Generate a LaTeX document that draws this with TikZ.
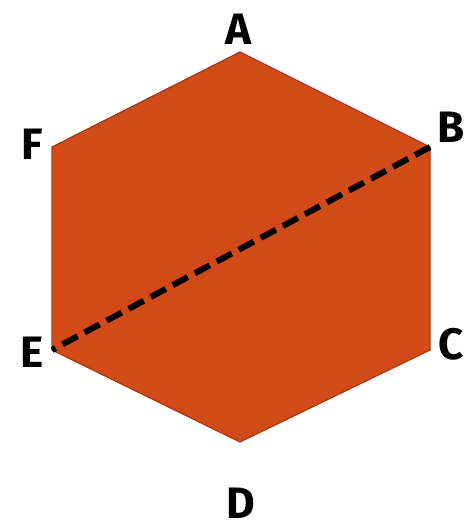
\documentclass[tikz,border=0pt]{standalone}
\usepackage{fontspec}
\setmainfont{Fira Sans}
\definecolor{hexfill}{HTML}{D14A17}
\definecolor{hexedge}{HTML}{A83A12}
\tikzset{
  vertex/.style = {font=\fontsize{44}{44}\selectfont\bfseries, text=black, inner sep=0pt},
  diagonal/.style = {line width=6pt, dash pattern=on 17pt off 8pt}
}

\begin{document}
\begin{tikzpicture}[x=1pt,y=-1pt]
  \useasboundingbox (0,0) rectangle (473,529);
  %
  \coordinate (A) at (240,52);
  \coordinate (B) at (430,147);
  \coordinate (C) at (430,350);
  \coordinate (D) at (240,442);
  \coordinate (E) at (52,350);
  \coordinate (F) at (52,147);
  % hexagon
  \draw[hexedge,fill=hexfill,line width=1.2pt,line join=miter] (A) -- (B) -- (C) -- (D) -- (E) -- (F) -- cycle;
  % diagonal
  \draw[diagonal] (B) -- (E);
  % labels
  \node[vertex] (lA) at (238,29) {A};
  \node[vertex] (lB) at (451,127) {B};
  \node[vertex] (lC) at (451,344) {C};
  \node[vertex] (lD) at (241,503) {D};
  \node[vertex] (lE) at (32,352) {E};
  \node[vertex] (lF) at (32,144) {F};
\end{tikzpicture}
\end{document}
